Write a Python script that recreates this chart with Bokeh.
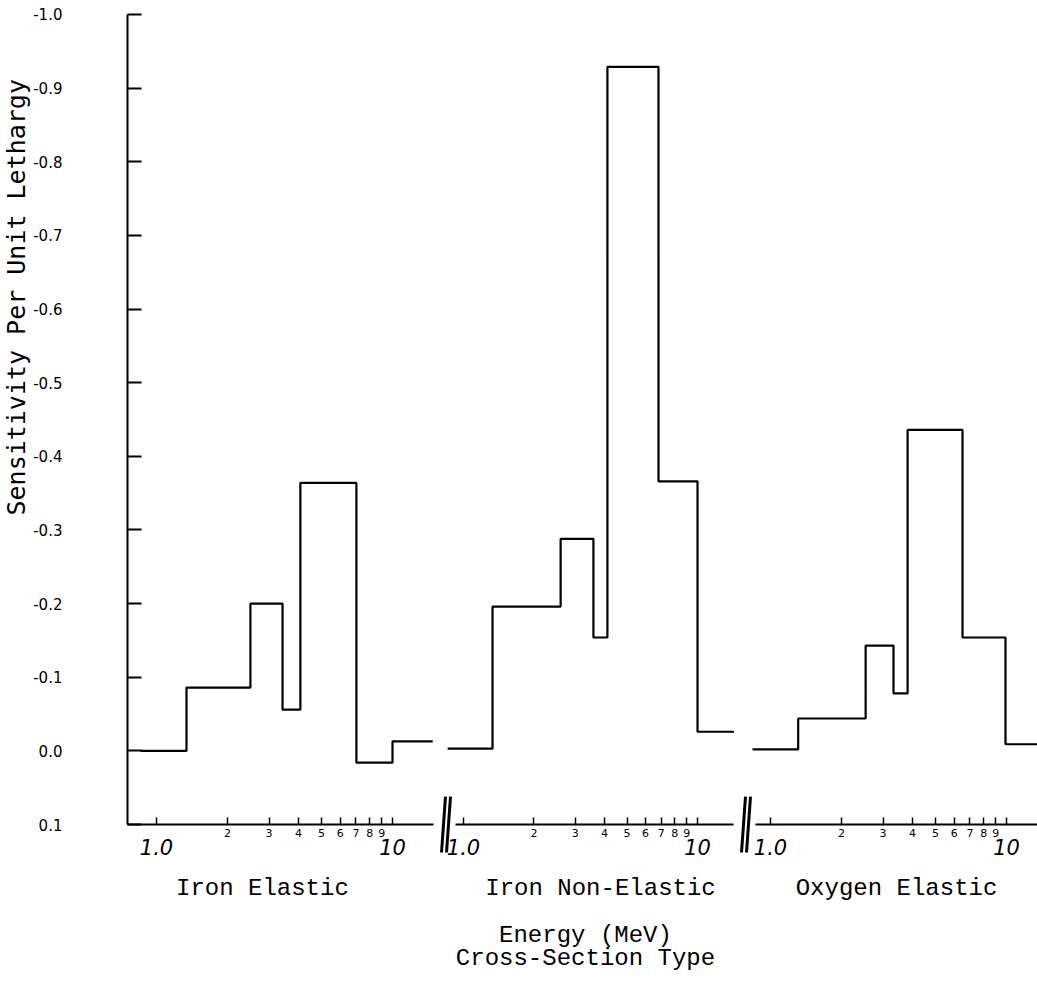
import math
from bokeh.plotting import figure
from bokeh.layouts import row
from bokeh.models import (Range1d, FixedTicker, PrintfTickFormatter, LogAxis,
                          LinearAxis, Label)
from bokeh.embed import file_html
from bokeh.resources import INLINE

# ---------------- data ----------------
sens_ticks = [-1.0, -0.9, -0.8, -0.7, -0.6, -0.5, -0.4, -0.3, -0.2, -0.1, 0.0, 0.1]
energy_ticks = [1, 2, 3, 4, 5, 6, 7, 8, 9, 10]
energy_big_labels = {1: "1.0", 10: "10"}
panel_names = ["Iron Elastic", "Iron Non-Elastic", "Oxygen Elastic"]
x_title = "Energy (MeV)"
x_subtitle = "Cross-Section Type"
y_title = "Sensitivity Per Unit Lethargy"

iron_elastic_edges = [0.855, 1.34, 2.5, 3.42, 4.07, 7.03, 10.0, 14.8]
iron_elastic_sens = [0.0, -0.086, -0.200, -0.056, -0.364, 0.016, -0.013]

iron_nonelastic_edges = [0.855, 1.33, 2.6, 3.59, 4.12, 6.81, 10.0, 14.3]
iron_nonelastic_sens = [-0.003, -0.196, -0.288, -0.154, -0.929, -0.366, -0.026]

oxygen_elastic_edges = [0.839, 1.31, 2.53, 3.32, 3.81, 6.51, 9.9, 13.5]
oxygen_elastic_sens = [-0.002, -0.044, -0.143, -0.078, -0.436, -0.154, -0.009]

# ---------------- layout / styling ----------------
FIG_H = 985
widths = [437, 300, 300]
x_limits = [(0.2183, 15.51), (0.774, 14.82), (0.7247, 13.53)]
x_axis_bounds = [(0.7534, 14.9), (0.924, 14.3), (0.864, 13.53)]
y_axis_at = 0.7534          # energy where the sensitivity axis stands (panel 1)
y_range = Range1d(start=0.3186, end=-1.019)   # inverted: negative values upward
base_level = 0.1            # sensitivity level of the energy axes

name_x = [2.81, 3.85, 3.42]
name_y = 0.187
title_x = 3.32
title_y = [0.2507, 0.282]

MONO = "Liberation Mono"
HAND = "DejaVu Sans"

series = [
    (iron_elastic_edges, iron_elastic_sens),
    (iron_nonelastic_edges, iron_nonelastic_sens),
    (oxygen_elastic_edges, oxygen_elastic_sens),
]


def shift(xval, px, lo, hi, width):
    """Move an energy value by px screen pixels on a log axis."""
    per_dec = width / math.log10(hi / lo)
    return 10 ** (math.log10(xval) + px / per_dec)


figs = []
for i, (name, (edges, sens)) in enumerate(zip(panel_names, series)):
    lo, hi = x_limits[i]
    p = figure(
        width=widths[i], height=FIG_H,
        x_axis_type="log",
        x_range=Range1d(lo, hi), y_range=y_range,
        x_axis_location=None, y_axis_location=None,
        output_backend="svg", toolbar_location=None,
        min_border=0,
    )
    p.min_border_left = p.min_border_right = 0
    p.min_border_top = p.min_border_bottom = 0
    p.outline_line_color = None
    p.grid.visible = False
    p.background_fill_color = "white"
    p.border_fill_color = "white"

    # histogram outline
    xs = list(edges)
    ys = list(sens) + [sens[-1]]
    p.step(xs, ys, mode="after", line_color="black", line_width=2.2)

    # energy axis: tick marks 1..10, small labels 2..9
    ax = LogAxis(
        fixed_location=base_level, bounds=x_axis_bounds[i],
        ticker=FixedTicker(ticks=energy_ticks, minor_ticks=[]),
        formatter=PrintfTickFormatter(format="%d"),
        major_label_overrides={1: "", 10: ""},
        major_tick_in=7, major_tick_out=0, major_tick_line_width=1.5,
        minor_tick_line_color=None,
        axis_line_width=2, axis_line_color="black",
        major_label_standoff=4,
        major_label_text_font=HAND, major_label_text_font_size="11px",
        major_label_text_color="black",
    )
    p.add_layout(ax, "below")

    # larger end labels 1.0 and 10
    ax2 = LogAxis(
        fixed_location=base_level,
        ticker=FixedTicker(ticks=[1, 10], minor_ticks=[]),
        formatter=PrintfTickFormatter(format="%d"),
        major_label_overrides=energy_big_labels,
        axis_line_color=None, major_tick_line_color=None, minor_tick_line_color=None,
        major_tick_in=0, major_tick_out=0,
        major_label_standoff=14,
        major_label_text_font=HAND, major_label_text_font_size="21px",
        major_label_text_font_style="italic", major_label_text_color="black",
    )
    p.add_layout(ax2, "below")

    # panel name
    p.add_layout(Label(
        x=name_x[i], y=name_y, text=name,
        text_align="center", text_baseline="middle",
        text_font=MONO, text_font_size="24px", text_color="black",
    ))

    if i == 0:
        yax = LinearAxis(
            fixed_location=y_axis_at, bounds=(-1.0, 0.1),
            ticker=FixedTicker(ticks=sens_ticks, minor_ticks=[]),
            formatter=PrintfTickFormatter(format="%.1f"),
            major_tick_in=14, major_tick_out=0, major_tick_line_width=2,
            minor_tick_line_color=None,
            axis_line_width=2, axis_line_color="black",
            major_label_standoff=65,
            major_label_text_font=HAND, major_label_text_font_size="15px",
            major_label_text_color="black",
        )
        p.add_layout(yax, "left")
        p.add_layout(Label(
            x=shift(lo, 16, lo, hi, widths[i]), y=-0.616, text=y_title,
            angle=math.pi / 2, text_align="center", text_baseline="middle",
            text_font="DejaVu Sans Mono", text_font_size="25px", text_color="black",
        ))
    else:
        # axis break marks (two slanted strokes)
        y_bot = base_level + 0.038
        y_top = base_level - 0.038
        for off in (4, 9):
            x0 = shift(lo, off, lo, hi, widths[i])
            x1 = shift(lo, off + 4, lo, hi, widths[i])
            p.segment(x0=[x0], y0=[y_bot], x1=[x1], y1=[y_top],
                      line_color="black", line_width=3)

    if i == 1:
        p.add_layout(Label(
            x=title_x, y=title_y[0], text=x_title,
            text_align="center", text_baseline="middle",
            text_font=MONO, text_font_size="24px", text_color="black",
        ))
        p.add_layout(Label(
            x=title_x, y=title_y[1], text=x_subtitle,
            text_align="center", text_baseline="middle",
            text_font=MONO, text_font_size="24px", text_color="black",
        ))
    figs.append(p)

layout = row(*figs, spacing=0)
open("out.html", "w").write(file_html(layout, INLINE))
